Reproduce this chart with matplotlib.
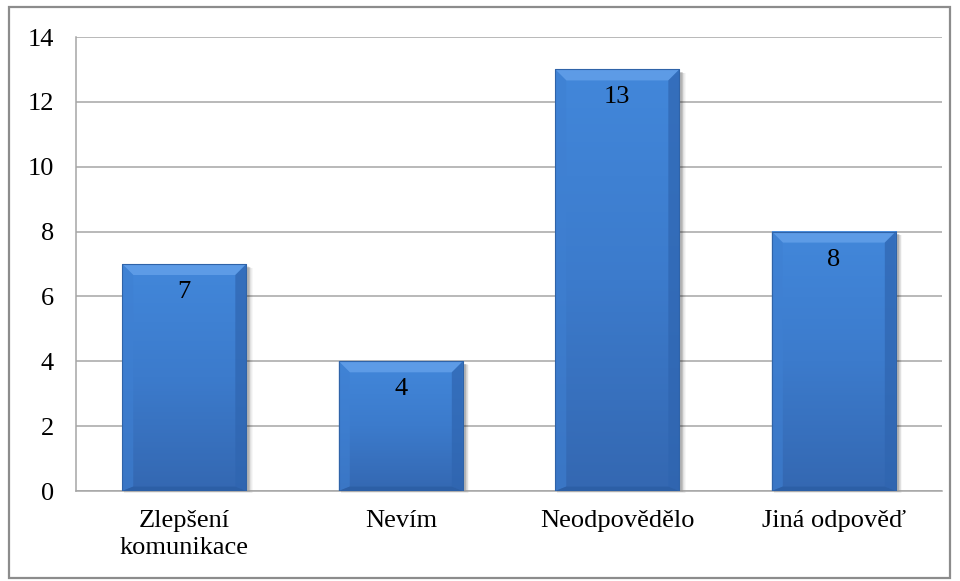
import numpy as np
import matplotlib
matplotlib.use("Agg")
import matplotlib.pyplot as plt
from matplotlib.patches import Rectangle, Polygon
from matplotlib.colors import LinearSegmentedColormap

categories = ["Zlepšení\nkomunikace", "Nevím", "Neodpovědělo", "Jiná odpověď"]
values = [7, 4, 13, 8]
y_ticks = [0, 2, 4, 6, 8, 10, 12, 14]

plt.rcParams["font.family"] = ["Liberation Serif", "DejaVu Serif"]

fig = plt.figure(figsize=(9.6, 5.81), dpi=100)
fig.patch.set_facecolor("white")
ax = fig.add_axes([0.0792, 0.1549, 0.9021, 0.7814])

# outer chart frame
fig.patches.append(Rectangle((9 / 960, 3 / 581), 941 / 960, 571 / 581,
                             transform=fig.transFigure, fill=False,
                             edgecolor="#8c8c8c", linewidth=1.6))

x = np.arange(len(categories))
bar_w = 0.573
bars = ax.bar(x, values, width=bar_w, color="#3d7dd0", zorder=3,
              edgecolor="none")

ax.set_xlim(-0.5, len(categories) - 0.5)
ax.set_ylim(0, 14)

# pixel-sized bevel/shadow offsets converted to data units
px_x = len(categories) / (0.9021 * 960)
px_y = 14 / (0.7814 * 581)

vert_cmap = LinearSegmentedColormap.from_list(
    "barv", ["#4287da", "#3c7bcc", "#3468b2"])

for rect, v in zip(bars, values):
    x0 = rect.get_x()
    w = rect.get_width()
    h = rect.get_height()
    # soft drop shadow
    for k, a in zip(range(6, 0, -1), [0.03, 0.04, 0.05, 0.06, 0.07, 0.08]):
        ax.add_patch(Rectangle((x0 + 2 * px_x, -k * px_y * 0.3), w + k * px_x * 0.7,
                               h - 2 * px_y, facecolor="black", alpha=a,
                               edgecolor="none", zorder=2, clip_on=False))
    # body gradient, lighter at the top
    img = np.linspace(0, 1, 64).reshape(-1, 1)
    ax.imshow(img, cmap=vert_cmap, aspect="auto", origin="upper",
              extent=(x0, x0 + w, 0, h), zorder=3.1, interpolation="bilinear")
    # bevel edges
    b_x = 11 * px_x
    b_y = 11 * px_y
    top = Polygon([(x0, h), (x0 + w, h), (x0 + w - b_x, h - b_y), (x0 + b_x, h - b_y)],
                  closed=True, facecolor="#5d9be6", edgecolor="none", zorder=3.2)
    left = Polygon([(x0, h), (x0 + b_x, h - b_y), (x0 + b_x, b_y * 0.4), (x0, 0)],
                   closed=True, facecolor="#3f80d2", edgecolor="none", zorder=3.2, alpha=0.6)
    right = Polygon([(x0 + w, h), (x0 + w - b_x, h - b_y), (x0 + w - b_x, b_y * 0.4), (x0 + w, 0)],
                    closed=True, facecolor="#2f65b0", edgecolor="none", zorder=3.2, alpha=0.7)
    bottom = Polygon([(x0, 0), (x0 + b_x, b_y * 0.4), (x0 + w - b_x, b_y * 0.4), (x0 + w, 0)],
                     closed=True, facecolor="#2c5fa6", edgecolor="none", zorder=3.2)
    for p in (top, left, right, bottom):
        ax.add_patch(p)
    ax.add_patch(Rectangle((x0, 0), w, h, fill=False, edgecolor="#2f63a8",
                           linewidth=0.8, zorder=3.3))
    ax.text(x0 + w / 2, h - 28 * px_y, str(v), ha="center", va="center",
            fontsize=19, color="black", zorder=4)

ax.set_yticks(y_ticks)
ax.set_yticklabels([str(t) for t in y_ticks], fontsize=19)
ax.set_xticks(x)
ax.set_xticklabels(categories, fontsize=19, linespacing=1.25)
ax.tick_params(axis="both", length=0)
ax.tick_params(axis="x", pad=14)
ax.tick_params(axis="y", pad=16)

ax.yaxis.grid(True, color="#a6a6a6", linewidth=1.1, zorder=0)
ax.set_axisbelow(True)
for s in ("top", "right"):
    ax.spines[s].set_visible(False)
for s in ("left", "bottom"):
    ax.spines[s].set_color("#a6a6a6")
    ax.spines[s].set_linewidth(1.1)

fig.savefig("out.png", dpi=100, facecolor="white")
